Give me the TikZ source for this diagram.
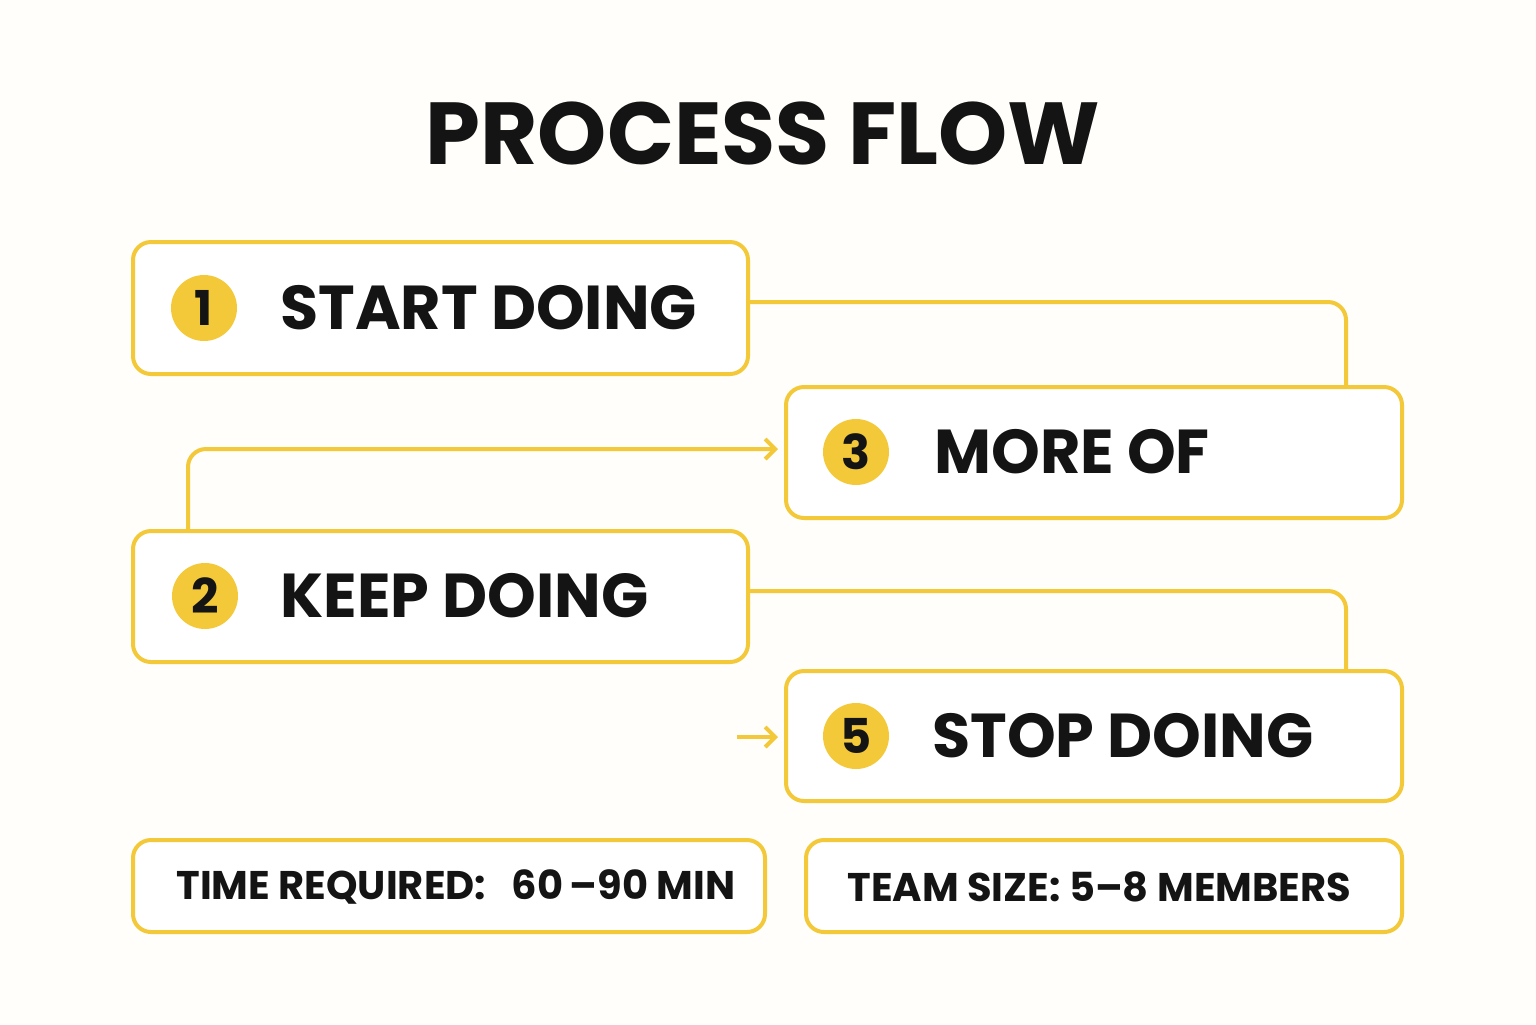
\documentclass[tikz,border=0pt]{standalone}
\usepackage{fontspec}
\setmainfont{Poppins}
\usetikzlibrary{arrows.meta}
\definecolor{ylw}{HTML}{F3C93A}
\definecolor{bg}{HTML}{FFFEFA}
\definecolor{ink}{HTML}{141414}
\begin{document}
\begin{tikzpicture}[x=0.5pt,y=-0.5pt,
  box/.style={draw=ylw,line width=2pt,rounded corners=9pt,fill=white},
  num/.style={circle,fill=ylw,minimum size=33pt,inner sep=0pt,font=\fontsize{24}{24}\selectfont\bfseries,text=ink},
  lbl/.style={anchor=west,font=\fontsize{31}{31}\selectfont\bfseries,text=ink,inner sep=0pt},
  small/.style={font=\fontsize{20}{20}\selectfont\bfseries,text=ink,inner sep=0pt},
  conn/.style={draw=ylw,line width=2pt,rounded corners=9pt},
  arr/.style={conn,-{Straight Barb[length=5pt,width=10pt,line width=2pt]}}]
\fill[bg] (0,0) rectangle (1536,1024);
\useasboundingbox (0,0) rectangle (1536,1024);
\node[font=\fontsize{44}{44}\selectfont\bfseries,text=ink] (title) at (763,133) {PROCESS FLOW};
% connectors (behind boxes)
\coordinate (c1) at (1346,390);
\coordinate (c2) at (1346,674);
\coordinate (a3) at (778,449);
\coordinate (a5) at (778,737);
\coordinate (s5) at (737,737);
\draw[conn] (746,302) -| (c1);
\draw[conn] (746,591) -| (c2);
\draw[arr] (188,533) |- (a3);
\draw[arr] (s5) -- (a5);
% boxes
\draw[box] (133,242) rectangle (748,374) node[pos=0,coordinate] (b1) {};
\draw[box] (786,387) rectangle (1402,518);
\draw[box] (133,531) rectangle (748,662);
\draw[box] (786,671) rectangle (1402,801);
\draw[box] (133,840) rectangle (765,932);
\draw[box] (806,840) rectangle (1402,932);
\node[num] (n1) at (204,308) {1};
\node[lbl] (t1) at (280,308) {START DOING};
\node[num] (n3) at (856,452) {3};
\node[lbl] (t3) at (934,452) {MORE OF};
\node[num] (n2) at (205,596) {2};
\node[lbl] (t2) at (280,596) {KEEP DOING};
\node[num] (n5) at (856,736) {5};
\node[lbl] (t5) at (932,736) {STOP DOING};
\node[small,anchor=west] (tm) at (176,887) {TIME REQUIRED:\ \ \ 60\,–90 MIN};
\node[small,anchor=west] (ts) at (847,887) {TEAM SIZE: 5–8 MEMBERS};
\end{tikzpicture}
\end{document}
